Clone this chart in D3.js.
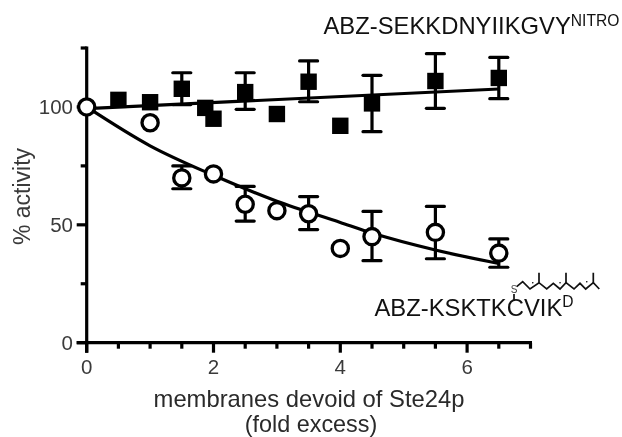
<!DOCTYPE html>
<html><head><meta charset="utf-8">
<script src="https://cdn.jsdelivr.net/npm/d3@7"></script>
<style>html,body{margin:0;padding:0;background:#fff}svg{display:block}text{font-family:"Liberation Sans",Arial,sans-serif;fill:#2a2a2a}</style>
</head><body><svg id="c" width="622" height="437"></svg>
<script>
const xTicksMajor=[0,2,4,6];
const xTicksMinor=[0.5,1,1.5,2.5,3,3.5,4.5,5,5.5,6.5,7];
const yTicksMajor=[0,50,100];
const yTicksMinor=[25,75,125];
const squareX=[0.5,1,1.5,1.87,2,2.5,3,3.5,4,4.5,5.5,6.5];
const squareY=[103,102,107.7,99.6,95,106.3,97,110.7,92,101.5,111,112.3];
const squareTop=[null,null,114.5,null,null,114.5,null,119.5,null,113.4,122.6,121];
const squareBottom=[null,null,101,null,null,99,null,102.2,null,89.5,99.4,103.5];
const circleX=[0,1,1.5,2,2.5,3,3.5,4,4.5,5.5,6.5];
const circleY=[100,93.3,69.9,71.6,58.7,56,54.7,40,45,46.8,38];
const circleTop=[null,null,75,null,66.3,null,62,null,55.7,57.8,44];
const circleBottom=[null,null,65.3,null,51.6,null,48,null,34.8,35.6,32];
const squareFitX=[0,6.5];
const squareFitY=[99.3,107.6];
const circleFitX=[0,1,2,3,4,4.5,5.5,6.5];
const circleFitY=[100,83.5,71,60,51,46.5,39.3,33.6];

const svg=d3.select("#c").append("g").style("filter","blur(0.4px)");
const x=d3.scaleLinear().domain([0,7]).range([86.7,530.5]);
const y=d3.scaleLinear().domain([0,125]).range([342.7,48]);
const sw=3.2;

const zip=(a,b)=>a.map((v,i)=>[v,b[i]]);
const line=d3.line().x(d=>x(d[0])).y(d=>y(d[1]));
function errs(X,T,B){
  const g=svg.append("g").attr("stroke","#000").attr("stroke-width",sw).attr("fill","none");
  X.forEach((v,i)=>{
    if(T[i]==null)return;
    g.append("line").attr("x1",x(v)).attr("x2",x(v)).attr("y1",y(T[i])).attr("y2",y(B[i]));
    [T[i],B[i]].forEach(e=>g.append("line").attr("x1",x(v)-9).attr("x2",x(v)+9).attr("y1",y(e)).attr("y2",y(e)).attr("stroke-linecap","round"));
  });
}
errs(squareX,squareTop,squareBottom);
errs(circleX,circleTop,circleBottom);
svg.append("path").attr("d",line(zip(squareFitX,squareFitY))).attr("fill","none").attr("stroke","#000").attr("stroke-width",sw);
svg.append("path").attr("d",line.curve(d3.curveMonotoneX)(zip(circleFitX,circleFitY))).attr("fill","none").attr("stroke","#000").attr("stroke-width",sw);
svg.append("g").selectAll("rect").data(zip(squareX,squareY)).join("rect")
  .attr("x",d=>x(d[0])-8.2).attr("y",d=>y(d[1])-8.2).attr("width",16.4).attr("height",16.4).attr("fill","#000");

const ax=svg.append("g").attr("stroke","#000").attr("stroke-width",sw);
ax.append("line").attr("x1",x(0)).attr("x2",x(0)).attr("y1",y(125)-1.5).attr("y2",y(0)+10);
ax.append("line").attr("x1",x(0)-10).attr("x2",x(7)+1.5).attr("y1",y(0)).attr("y2",y(0));
ax.selectAll(".xM").data(xTicksMajor).join("line").attr("class","xM").attr("x1",d=>x(d)).attr("x2",d=>x(d)).attr("y1",y(0)).attr("y2",y(0)+10);
ax.selectAll(".xm").data(xTicksMinor).join("line").attr("class","xm").attr("x1",d=>x(d)).attr("x2",d=>x(d)).attr("y1",y(0)).attr("y2",y(0)+6);
ax.selectAll(".yM").data(yTicksMajor).join("line").attr("class","yM").attr("x1",x(0)-10).attr("x2",x(0)).attr("y1",d=>y(d)).attr("y2",d=>y(d));
ax.selectAll(".ym").data(yTicksMinor).join("line").attr("class","ym").attr("x1",x(0)-6).attr("x2",x(0)).attr("y1",d=>y(d)).attr("y2",d=>y(d));

svg.append("g").selectAll("circle").data(zip(circleX,circleY)).join("circle")
  .attr("cx",d=>x(d[0])).attr("cy",d=>y(d[1])).attr("r",8.1)
  .attr("fill","#fff").attr("stroke","#000").attr("stroke-width",3.3);

const gray="#3a3a3a";
svg.append("g").selectAll("text").data(xTicksMajor).join("text")
  .attr("x",d=>x(d)).attr("y",373.5).attr("text-anchor","middle").attr("font-size",20.5).style("fill",gray).text(d=>d);
svg.append("g").selectAll("text").data(yTicksMajor).join("text")
  .attr("x",73).attr("y",d=>y(d)+7.3).attr("text-anchor","end").attr("font-size",20.5).style("fill",gray).text(d=>d);

svg.append("text").attr("x",309).attr("y",407).attr("text-anchor","middle").attr("font-size",23.8).text("membranes devoid of Ste24p");
svg.append("text").attr("x",311).attr("y",432).attr("text-anchor","middle").attr("font-size",23.4).text("(fold excess)");
svg.append("text").attr("transform","translate(30,196.5) rotate(-90)").attr("text-anchor","middle").attr("font-size",23).style("fill",gray).text("% activity");

const t1=svg.append("text").attr("x",323.5).attr("y",34.3).attr("font-size",23.8).style("fill","#111");
t1.append("tspan").text("ABZ-SEKKDNYIIKGVY");
t1.append("tspan").attr("font-size",15.6).attr("dy",-8.6).text("NITRO");
const t2=svg.append("text").attr("x",374.5).attr("y",315.7).attr("font-size",23.8).style("fill","#111");
t2.append("tspan").text("ABZ-KSKTKCVIK");
t2.append("tspan").attr("font-size",15.6).attr("dy",-8.5).text("D");

const s=svg.append("g").attr("fill","none").attr("stroke","#111").attr("stroke-width",1.7);
s.append("path").attr("d","M514,294V300M516.7,286.7L522.7,281.7L530,289L539,282.7L546.7,289L553.3,283.3L560,289L566,282.7L574,289L580,283.3L585.7,289L593.3,282.7L599.3,289");
s.append("path").attr("d","M539,282.7V272.7M566,282.7V272.7M593.3,282.7V272.7");
s.append("path").attr("stroke-width",1.6).attr("stroke-linecap","round").attr("d","M532.7,282.7h.1M560,282.7h.1M586.7,281.7h.1");
svg.append("text").attr("x",514).attr("y",293).attr("text-anchor","middle").attr("font-size",10).style("fill","#444").text("S");
</script></body></html>
